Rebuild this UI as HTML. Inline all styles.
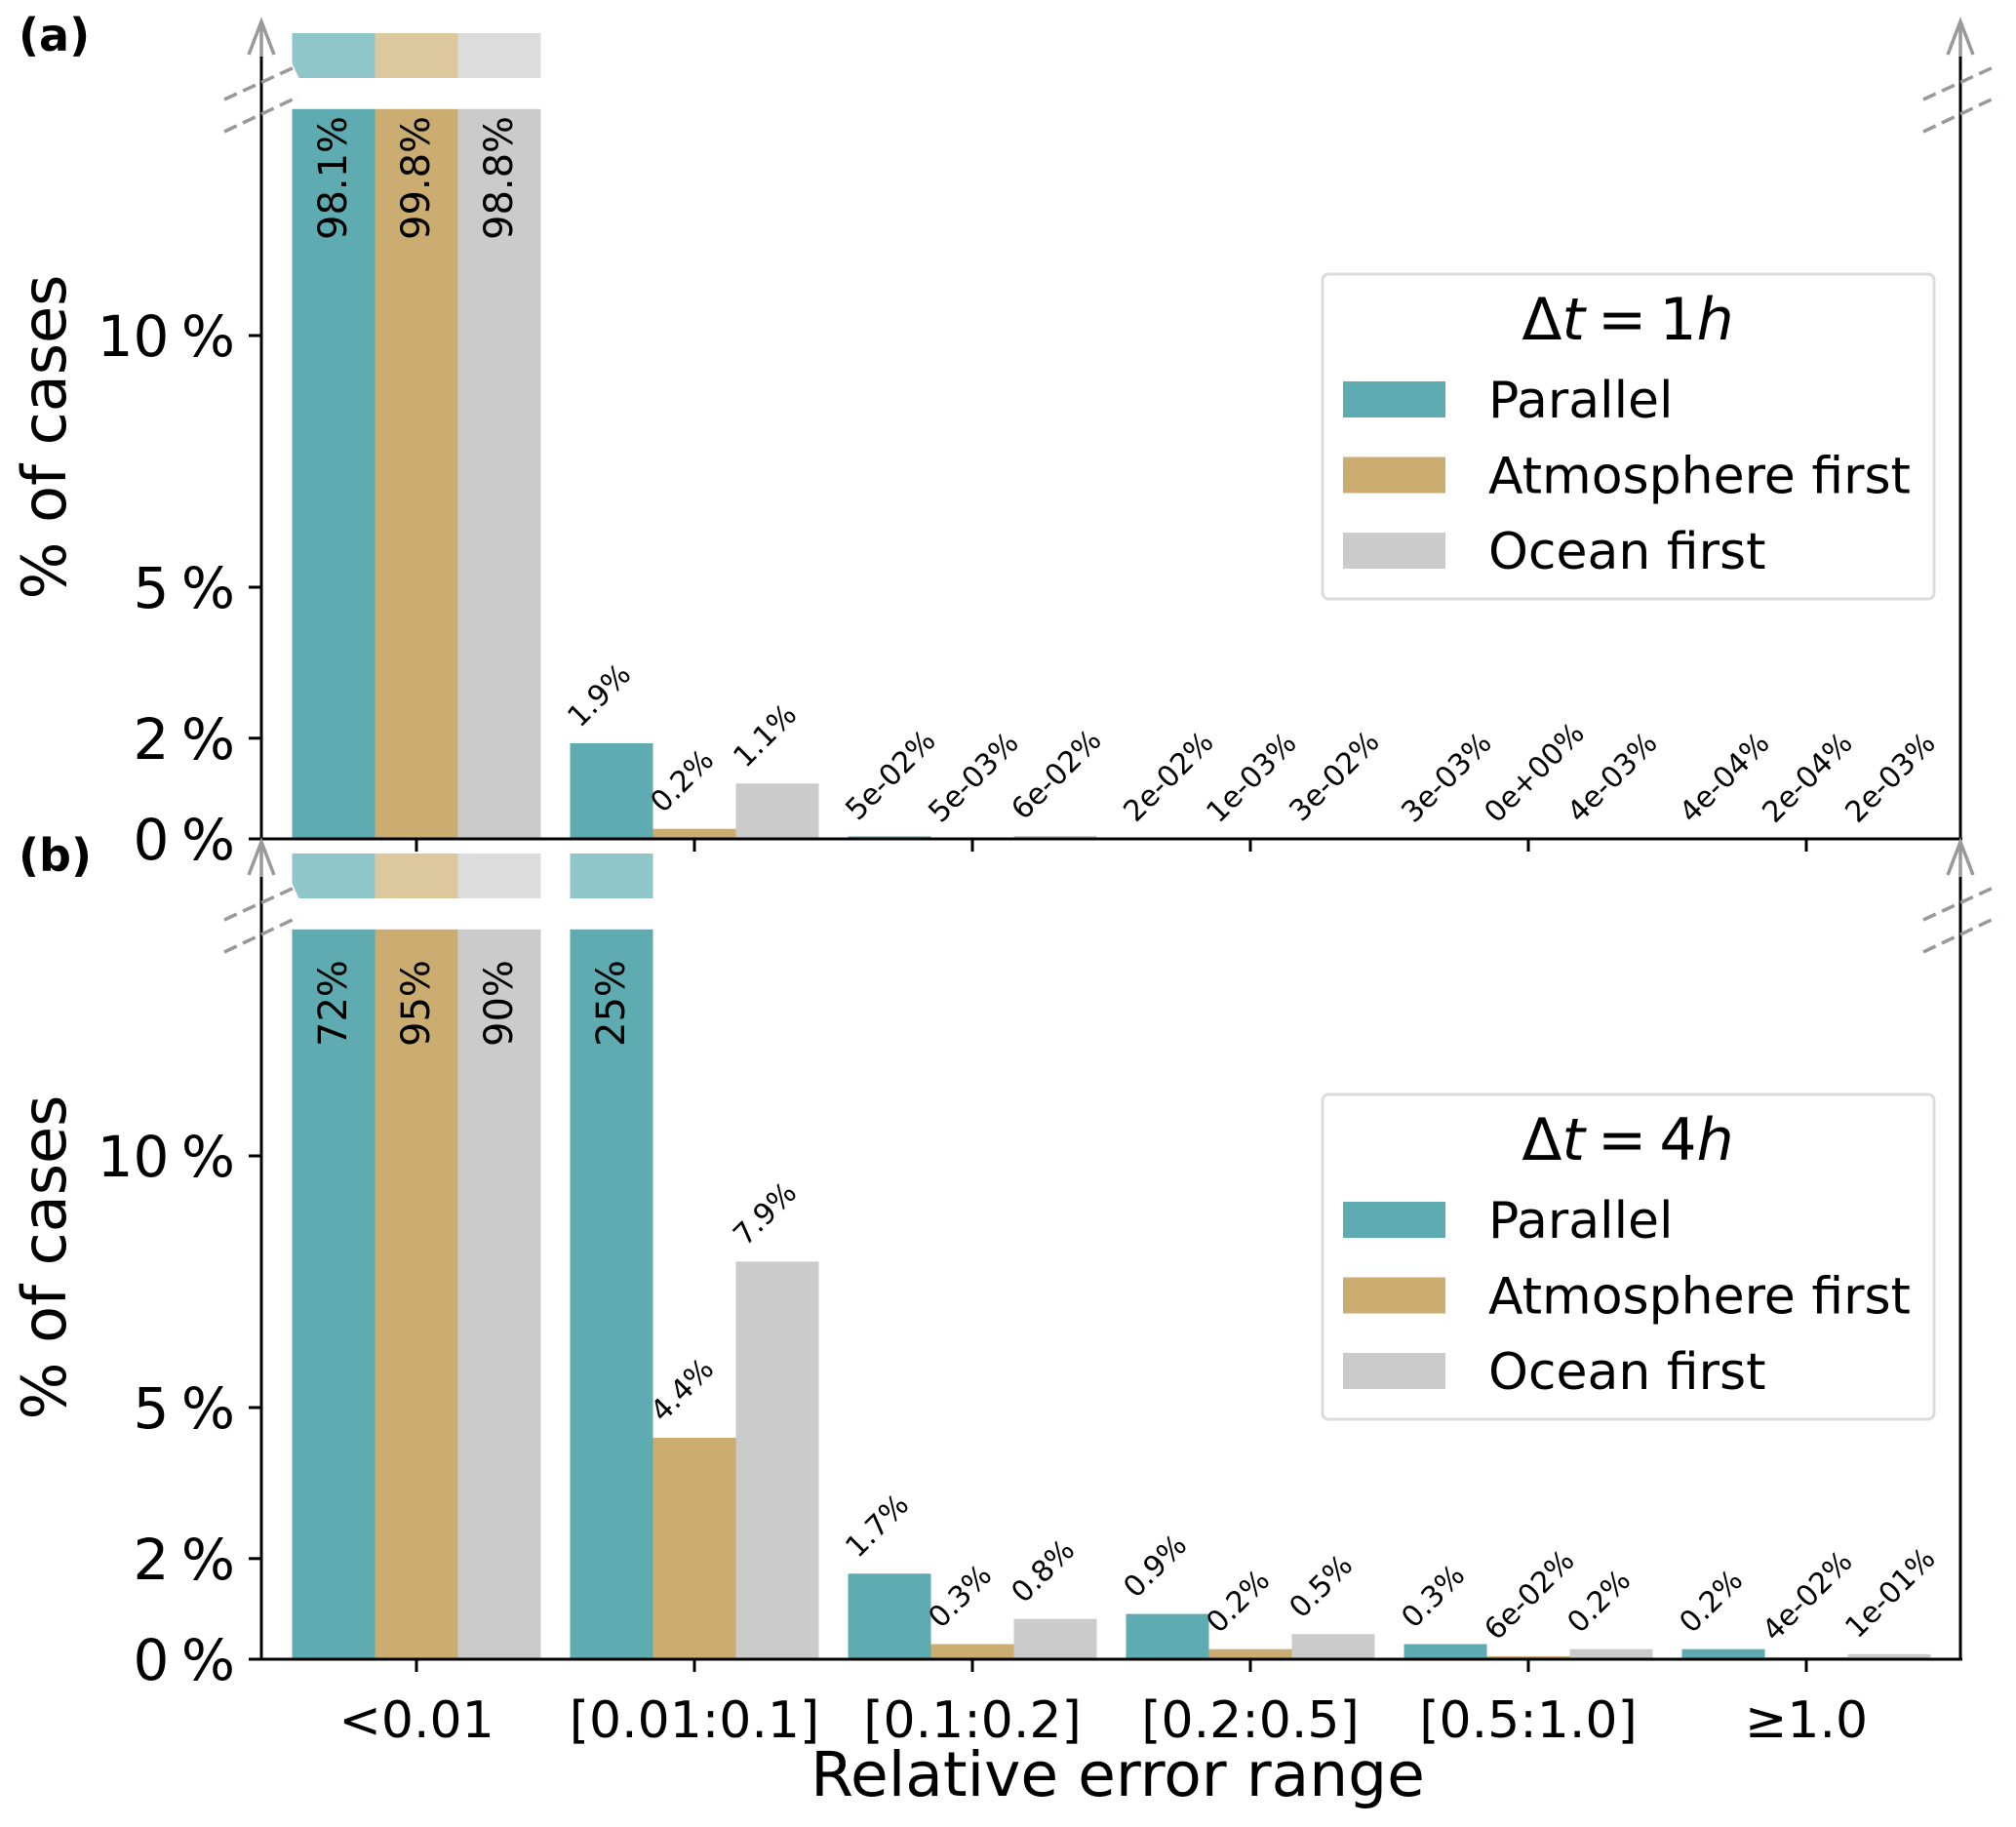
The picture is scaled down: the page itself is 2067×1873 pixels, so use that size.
<!DOCTYPE html>
<html><head><meta charset="utf-8"><style>
html,body{margin:0;padding:0;background:#fff;}
svg{display:block;font-family:"DejaVu Sans","Liberation Sans",sans-serif;}
</style></head><body>
<svg id="chart" width="2067" height="1873" viewBox="0 0 2067 1873" xmlns="http://www.w3.org/2000/svg"></svg>
<script>
const categories = ["<0.01", "[0.01:0.1]", "[0.1:0.2]", "[0.2:0.5]", "[0.5:1.0]", "≥1.0"];
const seriesNames = ["Parallel", "Atmosphere first", "Ocean first"];
const yTicks = [0, 2, 5, 10];
const yTickLabels = ["0 %", "2 %", "5 %", "10 %"];
// Panel (a) dt = 1h
const aParallel = [98.1, 1.9, 0.05, 0.02, 0.003, 0.0004];
const aAtmos = [99.8, 0.2, 0.005, 0.001, 0, 0.0002];
const aOcean = [98.8, 1.1, 0.06, 0.03, 0.004, 0.002];
const aParallelLabels = ["98.1%", "1.9%", "5e-02%", "2e-02%", "3e-03%", "4e-04%"];
const aAtmosLabels = ["99.8%", "0.2%", "5e-03%", "1e-03%", "0e+00%", "2e-04%"];
const aOceanLabels = ["98.8%", "1.1%", "6e-02%", "3e-02%", "4e-03%", "2e-03%"];
// Panel (b) dt = 4h
const bParallel = [72, 25, 1.7, 0.9, 0.3, 0.2];
const bAtmos = [95, 4.4, 0.3, 0.2, 0.06, 0.04];
const bOcean = [90, 7.9, 0.8, 0.5, 0.2, 0.1];
const bParallelLabels = ["72%", "25%", "1.7%", "0.9%", "0.3%", "0.2%"];
const bAtmosLabels = ["95%", "4.4%", "0.3%", "0.2%", "6e-02%", "4e-02%"];
const bOceanLabels = ["90%", "7.9%", "0.8%", "0.5%", "0.2%", "1e-01%"];

const NS = "http://www.w3.org/2000/svg";
const svg = document.getElementById("chart");
const colors = ["#5eacb1", "#cbad72", "#cbcbcb"];
const lightColors = ["#8fc6c9", "#ddc79c", "#dcdcdc"];
const AX_L = 268, AX_R = 2010, BREAK_VAL = 14.5, PX_PER = 51.6;
const GROUP0 = 427, GROUP_STEP = 285, BAR_W = 85;

function mk(tag, attrs, parent) {
  const e = document.createElementNS(NS, tag);
  for (const k in attrs) e.setAttribute(k, attrs[k]);
  (parent || svg).appendChild(e);
  return e;
}
function xCenter(i) { return GROUP0 + GROUP_STEP * i; }

function drawPanel(off, letter, dtNum, series, labels, vLabelOff) {
  const zero = 860 + off;
  const y = v => zero - Math.min(v, BREAK_VAL) * PX_PER;
  const g = mk("g", {});
  
  

  series.forEach((vals, s) => {
    vals.forEach((v, i) => {
      const left = xCenter(i) + (s - 1.5) * BAR_W;
      const top = y(v);
      const r = mk("rect", {x: left, y: top, width: BAR_W, height: Math.max(zero - top, 0), fill: colors[s]}, g);
      
      
      if (v > BREAK_VAL) {
        let stub;
        if (left <= AX_L + 40) {
          stub = mk("polygon", {points: `${left},${34+off} ${left+BAR_W},${34+off} ${left+BAR_W},${80+off} ${left+7},${80+off} ${left},${65+off}`, fill: lightColors[s]}, g);
        } else {
          stub = mk("rect", {x: left, y: 34 + off, width: BAR_W, height: 46, fill: lightColors[s]}, g);
        }
        
        
        const cx = left + BAR_W / 2, by = 112 + off + vLabelOff;
        const t = mk("text", {x: cx, y: by, "font-size": 40, "text-anchor": "start", "dominant-baseline": "central", transform: `rotate(-90 ${cx} ${by})`, fill: "#000"}, g);
        t.textContent = labels[s][i];
        
        
      } else {
        const lx = left + 10, ly = top - 15;
        const t = mk("text", {x: lx, y: ly, "font-size": 30, transform: `rotate(-45 ${lx} ${ly})`, fill: "#000"}, g);
        t.textContent = labels[s][i];
        
        
      }
    });
  });

  const ax = mk("g", {stroke: "#000", "stroke-width": 3, fill: "none"}, g);
  
  
  mk("line", {x1: AX_L - 2, y1: zero, x2: AX_R + 2, y2: zero}, ax);
  mk("line", {x1: AX_L, y1: zero, x2: AX_L, y2: 56 + off}, ax);
  mk("line", {x1: AX_R, y1: zero, x2: AX_R, y2: 56 + off}, ax);
  categories.forEach((c, i) => mk("line", {x1: xCenter(i), y1: zero, x2: xCenter(i), y2: zero + 13}, ax));
  yTicks.forEach((t, i) => {
    const yy = y(t);
    mk("line", {x1: AX_L - 13, y1: yy, x2: AX_L, y2: yy}, ax);
    const tl = mk("text", {x: 241, y: yy + 21, "font-size": 58, "text-anchor": "end", fill: "#000", stroke: "none", "word-spacing": "-6"}, g);
    tl.textContent = yTickLabels[i];
    
    
  });

  [AX_L, AX_R].forEach(xa => {
    const ar = mk("g", {stroke: "#999", "stroke-width": 3.5, fill: "none"}, g);
    
    
    mk("line", {x1: xa, y1: 22 + off, x2: xa, y2: 58 + off}, ar);
    mk("polyline", {points: `${xa-13},${56+off} ${xa},${22+off} ${xa+13},${56+off}`}, ar);
    mk("line", {x1: xa - 38, y1: 102 + off, x2: xa + 38, y2: 67 + off, "stroke-dasharray": "14 7"}, ar);
    mk("line", {x1: xa - 38, y1: 135 + off, x2: xa + 38, y2: 99 + off, "stroke-dasharray": "14 7"}, ar);
  });

  const yl = mk("text", {x: 67, y: 448 + off, "font-size": 62, "text-anchor": "middle", transform: `rotate(-90 67 ${448+off})`, fill: "#000"}, g);
  yl.textContent = "% of cases";
  
  

  const pl = mk("text", {x: 19, y: 52 + off, "font-size": 46, "font-weight": "bold", fill: "#000"}, g);
  pl.textContent = "(" + letter + ")";
  
  

  const lg = mk("g", {}, g);
  
  
  mk("rect", {x: 1356, y: 281 + off, width: 627, height: 333, rx: 6, fill: "#fff", stroke: "#dcdcdc", "stroke-width": 3}, lg);
  const tt = mk("text", {x: 1669, y: 348 + off, "font-size": 60, "text-anchor": "middle", fill: "#000", "word-spacing": "-6"}, lg);
  tt.innerHTML = 'Δ<tspan font-style="italic">t</tspan> = ' + dtNum + '<tspan font-style="italic">h</tspan>';
  
  
  seriesNames.forEach((n, s) => {
    const cy = 409 + 77.5 * s + off;
    const p = mk("rect", {x: 1377, y: cy - 18, width: 105, height: 37, fill: colors[s]}, lg);
    
    
    const lt = mk("text", {x: 1526, y: cy + 19, "font-size": 52, fill: "#000"}, lg);
    lt.textContent = n;
    
    
  });
  return zero;
}

drawPanel(0, "a", "1", [aParallel, aAtmos, aOcean], [aParallelLabels, aAtmosLabels, aOceanLabels], 134);
drawPanel(841, "b", "4", [bParallel, bAtmos, bOcean], [bParallelLabels, bAtmosLabels, bOceanLabels], 120);

categories.forEach((c, i) => {
  const t = mk("text", {x: xCenter(i), y: 1781, "font-size": 52, "text-anchor": "middle", fill: "#000"});
  t.textContent = c;
  
  
});
const xl = mk("text", {x: 1146, y: 1841, "font-size": 63, "text-anchor": "middle", fill: "#000"});
xl.textContent = "Relative error range";


</script>
</body></html>
